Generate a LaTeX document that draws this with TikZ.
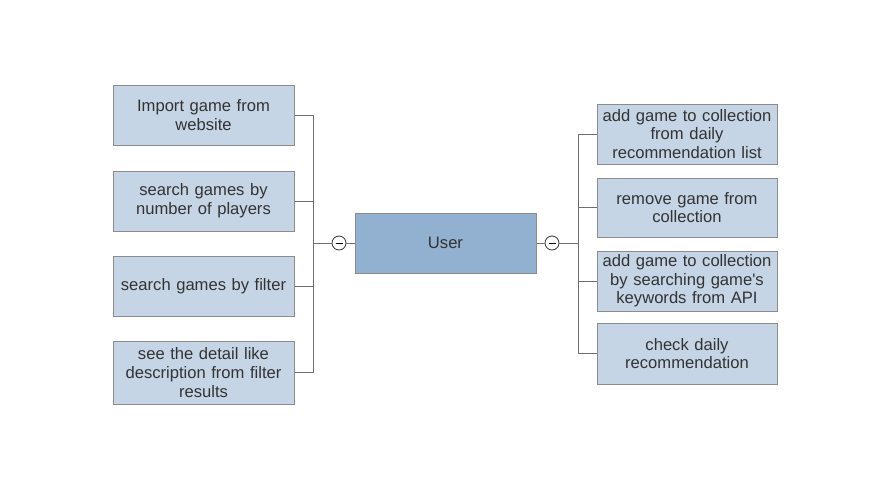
\documentclass[tikz,border=0pt]{standalone}
\usepackage{fontspec}
\usetikzlibrary{calc}
\setmainfont{Liberation Sans}
\definecolor{boxfill}{HTML}{C5D5E6}
\definecolor{userfill}{HTML}{92B0CF}
\definecolor{boxdraw}{HTML}{8C8C8C}
\definecolor{txt}{HTML}{333333}
\definecolor{wire}{HTML}{6E6E6E}
\begin{document}
\begin{tikzpicture}[x=1pt,y=-1pt,
  leaf/.style={draw=boxdraw,line width=1pt,fill=boxfill,minimum width=181pt,minimum height=60pt,
    align=center,text=txt,font=\fontsize{16.6}{18.6}\selectfont,inner sep=1pt,text width=179pt},
  userbox/.style={leaf,fill=userfill},
  wirel/.style={draw=wire,line width=1pt},
  toggle/.style={circle,draw=black!80,line width=0.8pt,fill=white,minimum size=14pt,inner sep=0pt}]
\useasboundingbox (0,0) rectangle (886,490);
% left
\node[leaf] (l1) at (203.5,115) {Import game from\\website};
\node[leaf] (l2) at (203.5,201) {search games by\\number of players};
\node[leaf] (l3) at (203.5,286) {search games by filter};
\node[leaf,minimum height=63pt] (l4) at (203.5,372.5) {see the detail like\\description from filter\\results};
% center
\node[userbox] (u) at (445.5,243) {User};
% right
\node[leaf,minimum width=180pt,text width=178pt] (r1) at (687,134) {add game to collection\\from daily\\recommendation list};
\node[leaf,minimum width=180pt,text width=178pt,minimum height=59pt] (r2) at (687,207.5) {remove game from\\collection};
\node[leaf,minimum width=180pt,text width=178pt] (r3) at (687,281) {add game to collection\\by searching game\textquotesingle s\\keywords from API};
\node[leaf,minimum width=180pt,text width=178pt,minimum height=61pt] (r4) at (687,353.5) {check daily\\recommendation};
% toggles
\node[toggle] (tl) at (339,243) {};
\node[toggle] (tr) at (552,243) {};
\draw[line width=1pt] ($(tl.center)+(-3.5,0)$) -- ($(tl.center)+(3.5,0)$);
\draw[line width=1pt] ($(tr.center)+(-3.5,0)$) -- ($(tr.center)+(3.5,0)$);
\coordinate (bl) at (313,243);
\coordinate (br) at (578,243);
% wires left
\draw[wirel] (u.west) -- (tl.east);
\draw[wirel] (tl.west) -- (bl);
\draw[wirel] (l1.east) -| (bl);
\draw[wirel] (l2.east) -| (bl);
\draw[wirel] (l3.east) -| (bl);
\draw[wirel] (l4.east) -| (bl);
% wires right
\draw[wirel] (u.east) -- (tr.west);
\draw[wirel] (tr.east) -- (br);
\draw[wirel] (r1.west) -| (br);
\draw[wirel] (r2.west) -| (br);
\draw[wirel] (r3.west) -| (br);
\draw[wirel] (r4.west) -| (br);
\end{tikzpicture}
\end{document}
